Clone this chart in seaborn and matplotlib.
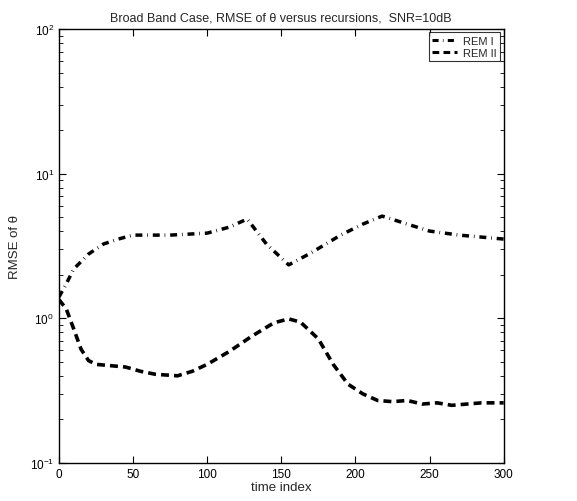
import matplotlib
matplotlib.use("Agg")
import matplotlib.pyplot as plt
import seaborn as sns
import pandas as pd
import numpy as np
from matplotlib.ticker import LogLocator, NullFormatter

sns.set_style("ticks")
plt.rcParams['font.family'] = ['Liberation Sans', 'DejaVu Sans']

t_rem1 = [0, 5, 10, 20, 30, 40, 50, 75, 100, 115, 127, 140, 155, 170, 190, 205, 218, 235, 250, 270, 300]
v_rem1 = [1.40, 1.73, 2.19, 2.78, 3.26, 3.53, 3.76, 3.76, 3.88, 4.27, 4.86, 3.26, 2.34, 2.83, 3.76, 4.48, 5.09, 4.48, 4.01, 3.76, 3.53]

t_rem2 = [0, 5, 10, 15, 20, 25, 35, 45, 55, 65, 80, 90, 100, 115, 130, 145, 155, 163, 175, 185, 195, 205,
          215, 225, 235, 245, 255, 265, 275, 285, 300]
v_rem2 = [1.35, 1.16, 0.845, 0.61, 0.51, 0.48, 0.47, 0.46, 0.43, 0.41, 0.40, 0.43, 0.48, 0.59, 0.75, 0.93,
          0.99, 0.94, 0.72, 0.48, 0.35, 0.30, 0.27, 0.265, 0.27, 0.255, 0.26, 0.25, 0.255, 0.26, 0.26]

labels = ["REM I", "REM II"]
title = "Broad Band Case, RMSE of \u03b8 versus recursions,  SNR=10dB"
xlabel = "time index"
ylabel = "RMSE of \u03b8"

df1 = pd.DataFrame({"t": t_rem1, "v": v_rem1})
df2 = pd.DataFrame({"t": t_rem2, "v": v_rem2})

fig = plt.figure(figsize=(5.77, 5.02), dpi=100)
ax = fig.add_axes([0.102, 0.076, 0.771, 0.864])

sns.lineplot(data=df1, x="t", y="v", ax=ax, color="black", linewidth=2.5,
             label=labels[0], dashes=False)
sns.lineplot(data=df2, x="t", y="v", ax=ax, color="black", linewidth=2.6,
             label=labels[1], dashes=False)
ax.lines[0].set_linestyle((0, (2.0, 1.4, 0.2, 1.4)))
ax.lines[0].set_dash_capstyle("butt")
ax.lines[1].set_linestyle((0, (2.2, 1.4)))
ax.lines[1].set_dash_capstyle("butt")

ax.set_yscale("log")
ax.set_xlim(0, 300)
ax.set_ylim(0.1, 100)
ax.set_xticks([0, 50, 100, 150, 200, 250, 300])
ax.yaxis.set_major_locator(LogLocator(base=10, numticks=10))
ax.yaxis.set_minor_locator(LogLocator(base=10, subs=np.arange(2, 10), numticks=20))
ax.yaxis.set_minor_formatter(NullFormatter())
ax.tick_params(which="both", direction="in", top=True, right=True, labelsize=8.5, colors="black")
ax.tick_params(which="major", length=5, width=0.8)
ax.tick_params(which="minor", length=3, width=0.6)
for s in ax.spines.values():
    s.set_linewidth(1.0)
    s.set_color("black")

ax.set_title(title, fontsize=9, pad=6)
ax.set_xlabel(xlabel, fontsize=9.5, labelpad=1)
ax.set_ylabel(ylabel, fontsize=9.5, labelpad=6)

leg = ax.legend(loc="upper right", fontsize=8, frameon=True, fancybox=False,
                edgecolor="black", handlelength=2.2, borderpad=0.3, labelspacing=0.2,
                handletextpad=0.6, borderaxespad=0.3)
leg.get_frame().set_linewidth(0.8)
for h in leg.get_lines():
    h.set_linewidth(2.2)

fig.savefig("out.png", dpi=100)
